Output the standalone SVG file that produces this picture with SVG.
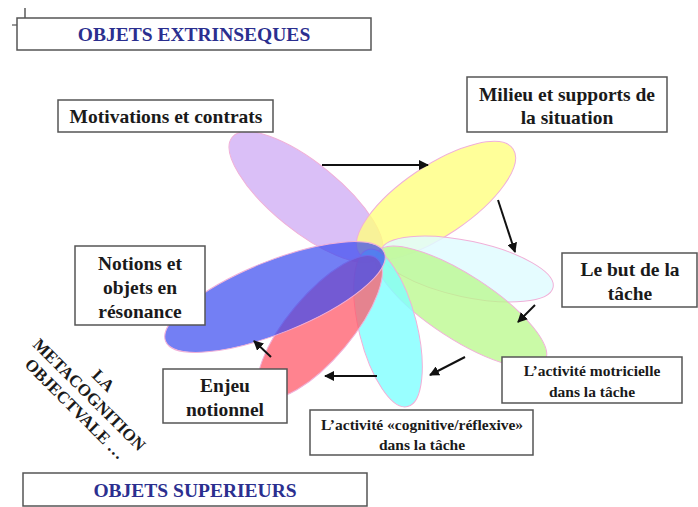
<svg xmlns="http://www.w3.org/2000/svg" width="698" height="507" viewBox="0 0 698 507">
<style>
.box{fill:#fff;stroke:#555;stroke-width:1.5}
.t{font-family:"Liberation Serif","Times New Roman",serif;font-weight:bold;fill:#1a1a1a;text-anchor:middle}
.big{font-size:19.5px}
.sm{font-size:15.5px}
.title{font-size:19.5px;fill:#2b2f8f}
.meta{font-size:17px}
.petal{stroke:#f0b0d8;stroke-width:1}
.arr{stroke:#111;stroke-width:2;fill:none;marker-end:url(#ah)}
</style>
<defs>
<marker id="ah" viewBox="0 0 10 10" refX="9" refY="5" markerWidth="5" markerHeight="5" orient="auto" markerUnits="strokeWidth">
<path d="M0,0 L10,5 L0,10 z" fill="#111"/>
</marker>
</defs>
<rect width="698" height="507" fill="#fff"/>

<g id="petals">
<ellipse class="petal" cx="306" cy="197" rx="95" ry="34" transform="rotate(39 306 197)" fill="#d4b4f6" fill-opacity="0.85"/>
<ellipse class="petal" cx="436" cy="201" rx="93" ry="35" transform="rotate(-34 436 201)" fill="#ffff80" fill-opacity="0.8"/>
<ellipse class="petal" cx="467" cy="269" rx="88" ry="28" transform="rotate(12 467 269)" fill="#e0fcff" fill-opacity="0.85"/>
<ellipse class="petal" cx="461" cy="307" rx="100" ry="32" transform="rotate(33 461 307)" fill="#b8f88a" fill-opacity="0.75"/>
<ellipse class="petal" cx="388" cy="328" rx="81" ry="29" transform="rotate(76 388 328)" fill="#80ffff" fill-opacity="0.8"/>
<ellipse class="petal" cx="320" cy="327" rx="89" ry="32" transform="rotate(-50 320 327)" fill="#ff5a6a" fill-opacity="0.75"/>
<ellipse class="petal" cx="275" cy="297" rx="118" ry="36" transform="rotate(-22 275 297)" fill="#3848f0" fill-opacity="0.7"/>
</g>

<g id="connectors">
<line class="arr" x1="322" y1="165" x2="428" y2="165"/>
<line class="arr" x1="498" y1="200" x2="515" y2="252"/>
<line class="arr" x1="535" y1="305" x2="518" y2="322"/>
<line class="arr" x1="465" y1="357" x2="430" y2="375"/>
<line class="arr" x1="377" y1="376" x2="325" y2="376"/>
<line class="arr" x1="271" y1="357" x2="254" y2="341"/>
</g>

<g id="objets-extrinseques">
<path d="M25,8 V25 H12" fill="none" stroke="#333" stroke-width="1.2"/>
<rect class="box" x="17" y="18" width="354" height="32"/>
<text class="t title" x="194" y="41">OBJETS EXTRINSEQUES</text>
</g>

<g id="motivations">
<rect class="box" x="58" y="100" width="215" height="32"/>
<text class="t big" x="166" y="123">Motivations et contrats</text>
</g>

<g id="milieu">
<rect class="box" x="467" y="77" width="200" height="55"/>
<text class="t big" x="567" y="101">Milieu et supports de</text>
<text class="t big" x="567" y="124">la situation</text>
</g>

<g id="but">
<rect class="box" x="562" y="253" width="135" height="54"/>
<text class="t big" x="630" y="276">Le but de la</text>
<text class="t big" x="630" y="300">tâche</text>
</g>

<g id="motricielle">
<rect class="box" x="502" y="357" width="180" height="46"/>
<text class="t sm" x="592" y="376">L’activité motricielle</text>
<text class="t sm" x="592" y="397">dans la tâche</text>
</g>

<g id="cognitive">
<rect class="box" x="310" y="410" width="223" height="45"/>
<text class="t sm" x="422" y="430">L’activité «cognitive/réflexive»</text>
<text class="t sm" x="422" y="450">dans la tâche</text>
</g>

<g id="enjeu">
<rect class="box" x="163" y="369" width="124" height="54"/>
<text class="t big" x="225" y="392">Enjeu</text>
<text class="t big" x="225" y="416">notionnel</text>
</g>

<g id="notions">
<rect class="box" x="75" y="246" width="130" height="79"/>
<text class="t big" x="140" y="270">Notions et</text>
<text class="t big" x="140" y="294">objets en</text>
<text class="t big" x="140" y="318">résonance</text>
</g>

<g id="metacognition" transform="translate(86 398) rotate(45)">
<text class="t meta" x="0" y="-19">LA</text>
<text class="t meta" x="0" y="1">METACOGNITION</text>
<text class="t meta" x="0" y="21">OBJECTVALE …</text>
</g>

<g id="objets-superieurs">
<rect class="box" x="23" y="473" width="344" height="33"/>
<text class="t title" x="195" y="497">OBJETS SUPERIEURS</text>
</g>
</svg>
